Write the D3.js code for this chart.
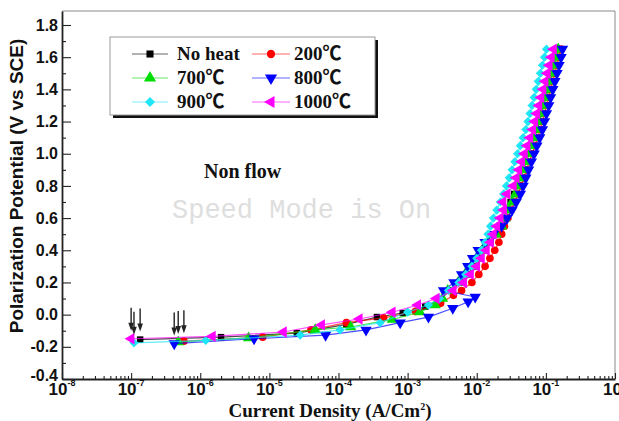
<!DOCTYPE html>
<html>
<head>
<meta charset="utf-8">
<script src="https://cdn.jsdelivr.net/npm/d3@7"></script>
<style>
  body { margin: 0; background: #fff; }
  svg { display: block; }
</style>
</head>
<body>
<svg id="chart" width="619" height="421"></svg>
<script>
// ---- data -------------------------------------------------------------
const seriesNames  = ["No heat", "200℃", "700℃", "800℃", "900℃", "1000℃"];
const seriesColors = ["#000000", "#ff0000", "#00dd00", "#0000ff", "#1ee6f5", "#ff00ff"];
const seriesShapes = ["square", "circle", "triangleUp", "triangleDown", "diamond", "triangleLeft"];

// Near the corrosion potential: [current density (A/cm²), potential (V vs SCE)]
const noHeatStart  = [[1.35e-7,-0.155],[2.0e-6,-0.140],[2.5e-5,-0.115],[1.3e-4,-0.060],[3.6e-4,-0.015],[8.5e-4,0.010],[1.8e-3,0.050],[3.0e-3,0.100]];
const heat200Start = [[5.8e-7,-0.165],[8.0e-6,-0.140],[4.0e-5,-0.095],[1.3e-4,-0.050],[4.5e-4,-0.020],[1.3e-3,0.020],[3.0e-3,0.070],[4.6e-3,0.120]];
const heat700Start = [[4.8e-7,-0.170],[5.0e-6,-0.145],[4.6e-5,-0.095],[1.5e-4,-0.077],[6.0e-4,-0.030],[1.5e-3,0.016],[2.5e-3,0.060],[3.2e-3,0.100]];
const heat800Start = [[4.2e-7,-0.180],[6.0e-6,-0.150],[6.5e-5,-0.127],[2.5e-4,-0.095],[7.8e-4,-0.050],[2.0e-3,-0.015],[4.5e-3,0.040],[7.5e-3,0.080],[9.5e-3,0.110]];
const heat900Start = [[1.1e-7,-0.175],[1.2e-6,-0.160],[2.8e-5,-0.127],[1.05e-4,-0.095],[4.0e-4,-0.050],[1.0e-3,0.016],[2.0e-3,0.060],[2.9e-3,0.100]];
const heat1000Start= [[1.0e-7,-0.150],[1.5e-6,-0.135],[1.6e-5,-0.108],[5.7e-5,-0.064],[2.0e-4,-0.027],[6.0e-4,0.015],[1.4e-3,0.060],[2.6e-3,0.100]];

// Anodic branch: shared potential steps (V) and the current density of each sample (A/cm²)
const anodicPotential = [0.15,0.20,0.25,0.30,0.35,0.40,0.45,0.50,0.55,0.60,0.65,0.70,0.75,0.80,0.85,0.90,0.95,1.00,1.05,1.10,1.15,1.20,1.25,1.30,1.35,1.40,1.45,1.50,1.55,1.60,1.65];
const noHeatAnodic  = [4.17e-3,5.89e-3,7.41e-3,9.12e-3,1.07e-2,1.26e-2,1.58e-2,1.86e-2,2.19e-2,2.45e-2,2.75e-2,3.09e-2,3.47e-2,3.80e-2,4.17e-2,4.57e-2,5.01e-2,5.50e-2,6.03e-2,6.61e-2,7.24e-2,7.76e-2,8.32e-2,8.91e-2,9.55e-2,0.102,0.110,0.117,0.126,0.135,0.145];
const heat200Anodic = [6.03e-3,8.51e-3,1.07e-2,1.32e-2,1.55e-2,1.82e-2,2.09e-2,2.29e-2,2.51e-2,2.82e-2,3.16e-2,3.55e-2,3.98e-2,4.37e-2,4.79e-2,5.25e-2,5.75e-2,6.31e-2,6.92e-2,7.59e-2,8.32e-2,8.91e-2,9.55e-2,0.102,0.110,0.117,0.126,0.135,0.145,0.155,0.166];
const heat700Anodic = [3.80e-3,5.37e-3,6.76e-3,8.32e-3,1.00e-2,1.20e-2,1.48e-2,1.91e-2,2.29e-2,2.57e-2,2.88e-2,3.24e-2,3.63e-2,3.98e-2,4.37e-2,4.79e-2,5.25e-2,5.75e-2,6.31e-2,6.92e-2,7.59e-2,8.13e-2,8.71e-2,9.33e-2,0.100,0.107,0.115,0.123,0.132,0.141,0.151];
const heat800Anodic = [3.31e-3,4.68e-3,6.03e-3,7.41e-3,8.71e-3,1.05e-2,1.32e-2,1.74e-2,2.29e-2,2.75e-2,3.24e-2,3.72e-2,4.27e-2,4.68e-2,5.13e-2,5.62e-2,6.17e-2,6.76e-2,7.41e-2,8.13e-2,8.91e-2,9.55e-2,0.102,0.110,0.117,0.126,0.135,0.145,0.155,0.166,0.174];
const heat900Anodic = [3.89e-3,5.50e-3,6.92e-3,8.51e-3,1.00e-2,1.17e-2,1.32e-2,1.45e-2,1.58e-2,1.74e-2,1.95e-2,2.19e-2,2.45e-2,2.69e-2,2.95e-2,3.24e-2,3.55e-2,3.89e-2,4.27e-2,4.68e-2,5.13e-2,5.50e-2,5.89e-2,6.31e-2,6.76e-2,7.24e-2,7.76e-2,8.32e-2,8.91e-2,9.55e-2,0.102];
const heat1000Anodic= [4.57e-3,6.46e-3,8.13e-3,1.00e-2,1.17e-2,1.38e-2,1.58e-2,1.74e-2,1.95e-2,2.19e-2,2.45e-2,2.40e-2,2.75e-2,3.39e-2,3.72e-2,4.07e-2,4.47e-2,4.90e-2,5.37e-2,5.89e-2,6.46e-2,6.92e-2,7.41e-2,7.94e-2,8.51e-2,9.12e-2,9.77e-2,0.105,0.112,0.120,0.129];

const xTickExponents = [-8, -7, -6, -5, -4, -3, -2, -1, 0];
const yTickValues = [-0.4, -0.2, 0.0, 0.2, 0.4, 0.6, 0.8, 1.0, 1.2, 1.4, 1.6, 1.8];
const yMinorValues = [-0.3, -0.1, 0.1, 0.3, 0.5, 0.7, 0.9, 1.1, 1.3, 1.5, 1.7];

const startLists  = [noHeatStart, heat200Start, heat700Start, heat800Start, heat900Start, heat1000Start];
const anodicLists = [noHeatAnodic, heat200Anodic, heat700Anodic, heat800Anodic, heat900Anodic, heat1000Anodic];

const series = seriesNames.map((name, i) => ({
  name,
  color: seriesColors[i],
  shape: seriesShapes[i],
  points: startLists[i].map(([c, v]) => ({ c, v }))
    .concat(anodicLists[i].map((c, k) => ({ c, v: anodicPotential[k] })))
}));

// ---- layout -----------------------------------------------------------
const svg = d3.select("#chart");
const plotLeft = 62, plotRight = 615, plotTop = 11, plotBottom = 379;

const x = d3.scaleLog().domain([1e-8, 1]).range([plotLeft, plotRight]);
const y = d3.scaleLinear().domain([-0.4, 1.887]).range([plotBottom, plotTop]);

svg.append("rect").attr("width", 619).attr("height", 421).attr("fill", "#fff");

// marker shapes
function symbolPath(shape, size) {
  const map = {
    square: d3.symbolSquare, circle: d3.symbolCircle,
    triangleUp: d3.symbolTriangle, triangleDown: d3.symbolTriangle,
    diamond: d3.symbolSquare, triangleLeft: d3.symbolTriangle
  };
  return d3.symbol().type(map[shape]).size(size)();
}
const shapeRotation = { square: 0, circle: 0, triangleUp: 0, triangleDown: 180, diamond: 45, triangleLeft: -90 };
const shapeSize = { square: 42, circle: 46, triangleUp: 56, triangleDown: 56, diamond: 42, triangleLeft: 56 };

// ---- plot frame (thin top / right edges) ------------------------------
svg.append("line").attr("x1", plotLeft).attr("x2", plotRight).attr("y1", plotTop).attr("y2", plotTop)
  .attr("stroke", "#8a8a8a").attr("stroke-width", 1);
svg.append("line").attr("x1", plotRight).attr("x2", plotRight).attr("y1", plotTop).attr("y2", plotBottom)
  .attr("stroke", "#8a8a8a").attr("stroke-width", 1);

// ---- watermark + annotation text --------------------------------------
svg.append("text")
  .attr("x", 172).attr("y", 218)
  .attr("font-family", "'Liberation Mono', 'DejaVu Sans Mono', monospace")
  .attr("font-size", 27)
  .attr("fill", "#dedede")
  .text("Speed Mode is On");

svg.append("text")
  .attr("x", 204).attr("y", 178)
  .attr("font-family", "'Liberation Serif', 'Times New Roman', serif")
  .attr("font-weight", "bold")
  .attr("font-size", 20)
  .attr("fill", "#111")
  .text("Non flow");

// ---- series -----------------------------------------------------------
svg.append("clipPath").attr("id", "plotClip")
  .append("rect").attr("x", plotLeft).attr("y", plotTop)
  .attr("width", plotRight - plotLeft).attr("height", plotBottom - plotTop);

const plot = svg.append("g").attr("clip-path", "url(#plotClip)");
const line = d3.line().x(d => x(d.c)).y(d => y(d.v));

series.forEach(s => {
  const g = plot.append("g");
  g.append("path")
    .datum(s.points)
    .attr("d", line)
    .attr("fill", "none")
    .attr("stroke", s.color)
    .attr("stroke-opacity", 0.7)
    .attr("stroke-width", 1.2);
  g.selectAll("path.mk")
    .data(s.points)
    .join("path")
    .attr("class", "mk")
    .attr("d", symbolPath(s.shape, shapeSize[s.shape]))
    .attr("transform", d => `translate(${x(d.c)},${y(d.v)}) rotate(${shapeRotation[s.shape]})`)
    .attr("fill", s.color);
});

// arrows marking each curve's starting point
const arrowG = svg.append("g");
series.forEach(s => {
  const p = s.points[0];
  const ax = x(p.c), tipY = y(p.v) - 8;
  arrowG.append("line")
    .attr("x1", ax).attr("x2", ax).attr("y1", tipY - 23).attr("y2", tipY - 5)
    .attr("stroke", "#222").attr("stroke-width", 1.4);
  arrowG.append("path")
    .attr("d", `M${ax - 2.8},${tipY - 8} L${ax + 2.8},${tipY - 8} L${ax},${tipY} Z`)
    .attr("fill", "#222");
});

// ---- axes -------------------------------------------------------------
const axisColor = "#222";

const yAxis = svg.append("g").attr("transform", `translate(${plotLeft},0)`)
  .call(d3.axisLeft(y).tickValues(yTickValues).tickSizeInner(-9).tickSizeOuter(0)
    .tickPadding(4).tickFormat(d => d.toFixed(1)));
svg.append("g").attr("transform", `translate(${plotLeft},0)`)
  .call(d3.axisLeft(y).tickValues(yMinorValues).tickSize(-4).tickFormat(""))
  .call(g => g.select(".domain").remove());

const decades = xTickExponents.map(e => Math.pow(10, e));
const minorX = [];
xTickExponents.slice(0, -1).forEach(e => {
  for (let k = 2; k <= 9; k++) minorX.push(k * Math.pow(10, e));
});
svg.append("g").attr("transform", `translate(0,${plotBottom})`)
  .call(d3.axisBottom(x).tickValues(decades).tickSizeInner(-6).tickSizeOuter(0).tickFormat(""));
svg.append("g").attr("transform", `translate(0,${plotBottom})`)
  .call(d3.axisBottom(x).tickValues(minorX).tickSize(-3).tickFormat(""))
  .call(g => g.select(".domain").remove());

svg.selectAll(".domain").attr("stroke", axisColor).attr("stroke-width", 1.8);
svg.selectAll(".tick line").attr("stroke", axisColor).attr("stroke-width", 1.1);

yAxis.selectAll(".tick text")
  .attr("font-family", "'Liberation Sans', Arial, sans-serif")
  .attr("font-weight", "bold")
  .attr("font-size", 16)
  .attr("fill", "#111");
// lift the lowest label a little so it clears the first x label
yAxis.selectAll(".tick text").filter(d => d === -0.4).attr("dy", "0.1em");

// x tick labels as powers of ten
const xLabels = svg.append("g")
  .attr("font-family", "'Liberation Sans', Arial, sans-serif")
  .attr("font-weight", "bold")
  .attr("fill", "#111");
xTickExponents.forEach((e, i) => {
  const t = xLabels.append("text")
    .attr("x", x(decades[i]))
    .attr("y", 395)
    .attr("text-anchor", "middle")
    .attr("font-size", 17);
  t.append("tspan").text("10");
  t.append("tspan").attr("dy", -9).attr("font-size", 9).text(String(e));
});

// axis titles
svg.append("text")
  .attr("transform", "translate(23,186) rotate(-90)")
  .attr("text-anchor", "middle")
  .attr("font-family", "'Liberation Sans', Arial, sans-serif")
  .attr("font-weight", "bold")
  .attr("font-size", 19)
  .attr("fill", "#111")
  .text("Polarization Potential (V vs SCE)");

const xTitle = svg.append("text")
  .attr("x", 330).attr("y", 417)
  .attr("text-anchor", "middle")
  .attr("font-family", "'Liberation Serif', 'Times New Roman', serif")
  .attr("font-weight", "bold")
  .attr("font-size", 19)
  .attr("fill", "#111");
xTitle.append("tspan").text("Current Density (A/Cm");
xTitle.append("tspan").attr("dy", -7).attr("font-size", 10).text("2");
xTitle.append("tspan").attr("dy", 7).text(")");

// ---- legend -----------------------------------------------------------
const lg = svg.append("g");
lg.append("rect").attr("x", 113).attr("y", 40).attr("width", 265).attr("height", 78).attr("fill", "#111");
lg.append("rect").attr("x", 110).attr("y", 37).attr("width", 265).attr("height", 78)
  .attr("fill", "#fff").attr("stroke", "#9a9a9a").attr("stroke-width", 1);

const legendCols = [{ x1: 132, x2: 168, tx: 177 }, { x1: 252, x2: 290, tx: 294 }];
const legendRows = [54, 78, 102];
series.forEach((s, i) => {
  const col = legendCols[i % 2], row = legendRows[Math.floor(i / 2)];
  const cx = (col.x1 + col.x2) / 2;
  lg.append("line").attr("x1", col.x1).attr("x2", col.x2).attr("y1", row).attr("y2", row)
    .attr("stroke", s.color).attr("stroke-opacity", 0.6).attr("stroke-width", 1.2);
  lg.append("path")
    .attr("d", symbolPath(s.shape, shapeSize[s.shape] + 8))
    .attr("transform", `translate(${cx},${row}) rotate(${shapeRotation[s.shape]})`)
    .attr("fill", s.color);
  lg.append("text")
    .attr("x", col.tx).attr("y", row + 6)
    .attr("font-family", "'Liberation Serif', 'Times New Roman', 'Noto Sans CJK SC', serif")
    .attr("font-weight", "bold")
    .attr("font-size", 19)
    .attr("fill", "#111")
    .text(s.name);
});
</script>
</body>
</html>
